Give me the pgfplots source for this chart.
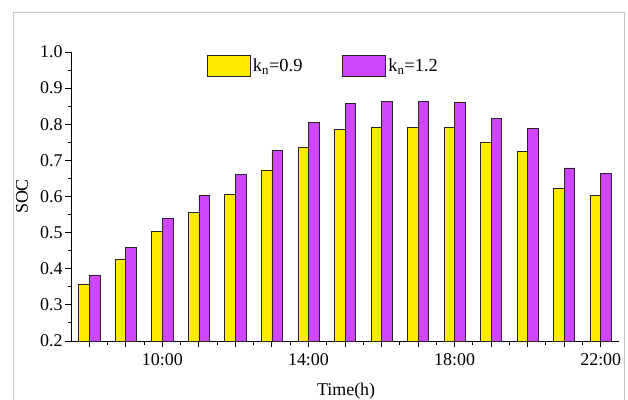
\documentclass[border=0pt]{standalone}
\usepackage{pgfplots}
\pgfplotsset{compat=1.18}
\usepackage{fontspec}
\setmainfont{Liberation Serif}
\definecolor{byellow}{RGB}{255,234,0}
\definecolor{bpurple}{RGB}{206,70,255}
\begin{document}
\begin{tikzpicture}[x=1bp,y=1bp]
\path[use as bounding box] (0,0) rectangle (628,399);
\draw[gray!45,line width=1bp] (13,-2) -- (13,386) -- (624,386) -- (624,-2);
\begin{axis}[
  at={(71bp,58bp)}, anchor=south west,
  scale only axis, width=548bp, height=289bp,
  xmin=7.5, xmax=22.5, ymin=0.2, ymax=1.0,
  axis x line*=bottom, axis y line*=left,
  axis line style={line width=0.9bp},
  xtick={8,9,...,22},
  xticklabels={,,10:00,,,,14:00,,,,18:00,,,,22:00},
  minor x tick num=1,
  ytick={0.2,0.3,...,1.0},
  yticklabels={0.2,0.3,0.4,0.5,0.6,0.7,0.8,0.9,1.0},
  minor y tick num=1,
  tick align=outside,
  major tick length=6bp, minor tick length=3.5bp,
  every tick/.style={black,line width=0.9bp},
  /pgf/number format/assume math mode=true,
  tick label style={font=\fontsize{18}{21}\selectfont},
  xticklabel style={yshift=-3.5bp},
  yticklabel style={xshift=1bp},
  ylabel={SOC},
  label style={font=\fontsize{18}{21}\selectfont},
  ylabel style={at={(axis description cs:-0.0894,0.5)}, anchor=center},
  xlabel={Time(h)},
  xlabel style={at={(axis description cs:0.502,-0.173)}, anchor=center},
  ybar=0pt, bar width=0.29,
  legend columns=2,
  legend style={draw=none, fill=none, at={(0.248,0.99)}, anchor=north west,
    inner sep=0pt, font=\fontsize{18.5}{21}\selectfont,
    /tikz/every even column/.append style={column sep=38bp}},
  legend image code/.code={\draw[#1,line width=0.8bp] (0bp,-10.5bp) rectangle (43bp,10.5bp);},
]
\addplot[fill=byellow, draw=black!85, line width=0.7bp, bar shift=-0.145] coordinates {
(8,0.358) (9,0.427) (10,0.504) (11,0.556) (12,0.606) (13,0.673) (14,0.737)
(15,0.786) (16,0.792) (17,0.792) (18,0.792) (19,0.751) (20,0.725) (21,0.622) (22,0.604)};
\addlegendentry{k\textsubscript{n}=0.9}
\addplot[fill=bpurple, draw=black!85, line width=0.7bp, bar shift=0.145] coordinates {
(8,0.383) (9,0.460) (10,0.540) (11,0.604) (12,0.661) (13,0.728) (14,0.804)
(15,0.858) (16,0.864) (17,0.863) (18,0.861) (19,0.815) (20,0.789) (21,0.679) (22,0.663)};
\addlegendentry{k\textsubscript{n}=1.2}
\end{axis}
\end{tikzpicture}
\end{document}
